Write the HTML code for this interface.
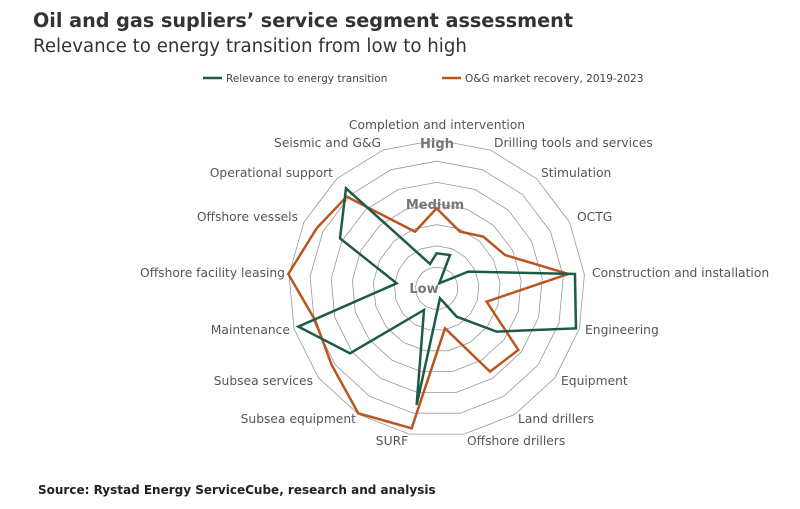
<!DOCTYPE html>
<html><head><meta charset="utf-8"><style>
body{margin:0;background:#fff;width:800px;height:504px;overflow:hidden;font-family:"Liberation Sans","DejaVu Sans",sans-serif}
</style></head><body>
<svg width="800" height="504" viewBox="0 0 800 504" xmlns="http://www.w3.org/2000/svg" font-family="DejaVu Sans, Liberation Sans, sans-serif">
<text x="33" y="27" font-size="19.2" font-weight="bold" fill="#333">Oil and gas supliers’ service segment assessment</text>
<text x="33" y="52" font-size="18.2" fill="#333">Relevance to energy transition from low to high</text>
<line x1="203" y1="78" x2="222" y2="78" stroke="#1e5a46" stroke-width="2.5"/>
<text x="226" y="82" font-size="10.5" fill="#444">Relevance to energy transition</text>
<line x1="442" y1="78" x2="461" y2="78" stroke="#b8561e" stroke-width="2.5"/>
<text x="465" y="82" font-size="10.5" fill="#444">O&amp;G market recovery, 2019-2023</text>
<g id="grid" fill="none" stroke="#999" stroke-width="0.8"></g>
<text x="437" y="148" font-size="13" font-weight="bold" fill="#777" text-anchor="middle">High</text>
<text x="435" y="209" font-size="13" font-weight="bold" fill="#777" text-anchor="middle">Medium</text>
<text x="424" y="293" font-size="13" font-weight="bold" fill="#777" text-anchor="middle">Low</text>
<g transform="translate(260,120) scale(0.3333)" fill="none" stroke-linejoin="miter">
<polygon stroke="#b8561e" stroke-width="7.5" points="530,265 600,335 670,350 735,405 925,462 680,545 775,690 690,755 555,625 455,925 295,880 215,735 165,600 85,462 170,325 260,230 465,335"/>
<polygon stroke="#1e5a46" stroke-width="7.5" points="530,400 570,405 538,490 625,455 945,462 948,625 710,635 590,590 540,535 470,855 492,570 270,700 115,620 410,490 240,355 258,205 510,432"/>
</g>
<g font-size="12.3" fill="#555">
<text x="437" y="129" text-anchor="middle">Completion and intervention</text>
<text x="381" y="147" text-anchor="end">Seismic and G&amp;G</text>
<text x="494" y="147">Drilling tools and services</text>
<text x="541" y="177">Stimulation</text>
<text x="333" y="177" text-anchor="end">Operational support</text>
<text x="577" y="221">OCTG</text>
<text x="298" y="221" text-anchor="end">Offshore vessels</text>
<text x="592" y="277">Construction and installation</text>
<text x="285" y="277" text-anchor="end">Offshore facility leasing</text>
<text x="585" y="334">Engineering</text>
<text x="290" y="334" text-anchor="end">Maintenance</text>
<text x="561" y="385">Equipment</text>
<text x="313" y="385" text-anchor="end">Subsea services</text>
<text x="518" y="423">Land drillers</text>
<text x="356" y="423" text-anchor="end">Subsea equipment</text>
<text x="392" y="445" text-anchor="middle">SURF</text>
<text x="467" y="445">Offshore drillers</text>
</g>
<text x="38" y="494" font-size="12" font-weight="bold" fill="#222">Source: Rystad Energy ServiceCube, research and analysis</text>
<script>
var g=document.getElementById('grid'),cx=436.7,cy=288.3,R=148.3;
for(var k=1;k<=7;k++){var r=R*k/7,p=[];for(var i=0;i<17;i++){var a=i*2*Math.PI/17;p.push((cx+r*Math.sin(a)).toFixed(1)+','+(cy-r*Math.cos(a)).toFixed(1));}
var e=document.createElementNS('http://www.w3.org/2000/svg','polygon');e.setAttribute('points',p.join(' '));g.appendChild(e);}
</script>
</svg>
</body></html>
